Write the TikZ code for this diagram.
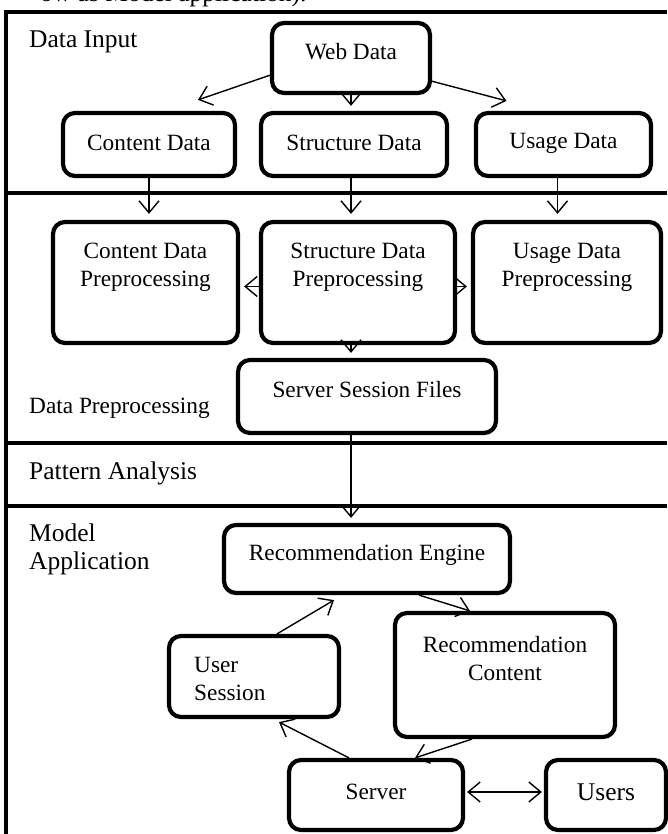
\documentclass[tikz,border=0pt]{standalone}
\usepackage{fontspec}
\setmainfont{Liberation Serif}
\usetikzlibrary{arrows.meta}

\tikzset{
  box/.style={draw, line width=4.2pt, rounded corners=12pt, inner sep=0pt},
  lbl/.style={align=center, inner sep=0pt, font=\fontsize{23.3}{28}\selectfont},
  lane/.style={align=left, anchor=west, inner sep=0pt, font=\fontsize{25.5}{28}\selectfont},
  sep/.style={line width=4.5pt},
  arr/.style={line width=1.4pt, -{Straight Barb[length=12pt,width=20pt]}},
  dbl/.style={line width=1.4pt, {Straight Barb[length=12pt,width=20pt]}-{Straight Barb[length=12pt,width=20pt]}},
}

\begin{document}
\begin{tikzpicture}[x=1pt,y=1pt]
  \useasboundingbox (0,0) rectangle (667,834);
  % cut-off line of text above the figure
  \node[lane, anchor=base west] (toptext) at (40,832) {ow as Model application).};

  % frame and lanes
  \draw[sep] (6,0) -- (6,822) -- (667,822);
  \draw[sep] (6,641) -- (667,641);
  \draw[sep] (6,391) -- (667,391);
  \draw[sep] (6,328) -- (667,328);

  \node[lane] (lanein) at (29,792) {Data Input};
  \node[lbl, anchor=west] (lanepre) at (29,426) {Data Preprocessing};
  \node[lane] (lanepat) at (29,361) {Pattern Analysis};
  \node[lane] (laneapp) at (29,285) {Model\\Application};

  % boxes
  \node[box, minimum width=158pt, minimum height=70pt] (web) at (351,776) {};
  \node[box, minimum width=172pt, minimum height=63pt] (cdata) at (149,689.5) {};
  \node[box, minimum width=186pt, minimum height=63pt] (sdata) at (354,689.5) {};
  \node[box, minimum width=175pt, minimum height=63pt] (udata) at (563.5,689.5) {};
  \node[box, minimum width=185pt, minimum height=121pt] (cpre) at (145.5,551.5) {};
  \node[box, minimum width=194pt, minimum height=121pt] (spre) at (358,551.5) {};
  \node[box, minimum width=188pt, minimum height=121pt] (upre) at (567,551.5) {};
  \node[box, minimum width=258pt, minimum height=73pt] (ssf) at (367,437.5) {};
  \node[box, minimum width=286pt, minimum height=68pt] (reng) at (367,275) {};
  \node[box, minimum width=220pt, minimum height=124pt] (rcont) at (505,159) {};
  \node[box, minimum width=170pt, minimum height=81pt] (usess) at (254,157.5) {};
  \node[box, minimum width=174pt, minimum height=70pt] (server) at (376,39) {};
  \node[box, minimum width=120pt, minimum height=70pt] (users) at (606,39) {};

  % texts of the boxes
  \node[lbl] (webtxt) at (351,782) {Web Data};
  \node[lbl] (cdatatxt) at (149,691) {Content Data};
  \node[lbl] (sdatatxt) at (354,691) {Structure Data};
  \node[lbl] (udatatxt) at (563.5,691) {Usage Data};
  \node[lbl] (cpretxt) at (145.5,566.5) {Content Data\\Preprocessing};
  \node[lbl] (spretxt) at (358,566.5) {Structure Data\\Preprocessing};
  \node[lbl] (upretxt) at (567,566.5) {Usage Data\\Preprocessing};
  \node[lbl] (ssftxt) at (367,444) {Server Session Files};
  \node[lbl] (rengtxt) at (367,279) {Recommendation Engine};
  \node[lbl] (rconttxt) at (505,175.5) {Recommendation\\Content};
  \node[lbl, align=left, anchor=west] (usesstxt) at (194,155.5) {User\\Session};
  \node[lbl] (servertxt) at (376,42) {Server};
  \node[lane, anchor=center] (userstxt) at (606,42) {Users};

  % connectors
  \draw[arr] (web.192) -- ([xshift=49pt,yshift=11pt]cdata.north);
  \draw[arr, shorten >=5pt] (web.south) -- (web.south |- sdata.north);
  \draw[arr] (web.-16) -- ([xshift=-57pt,yshift=10pt]udata.north);

  \draw[arr, shorten >=6pt] (cdata.south) -- (cdata.south |- cpre.north);
  \draw[arr, shorten >=6pt] (sdata.south -| web) -- (spre.north -| web);
  \draw[arr, shorten >=6pt] ([xshift=-6pt]udata.south) -- ([xshift=-6pt]udata.south |- upre.north);

  \draw[arr, shorten >=4pt] ([yshift=-4pt]spre.west) -- ([yshift=-4pt]spre.west -| cpre.east);
  \draw[arr, shorten >=4pt] ([yshift=-4pt]spre.east) -- ([yshift=-4pt]spre.east -| upre.west);
  \draw[arr, shorten >=5pt] (spre.south -| web) -- (ssf.north -| web);
  \draw[arr, shorten >=5pt] (ssf.south -| web) -- (reng.north -| web);

  \draw[arr] ([xshift=52pt]reng.south) -- ([xshift=-35pt]rcont.north);
  \draw[arr] ([xshift=23pt]usess.north) -- ([xshift=-33pt,yshift=-5pt]reng.south);
  \draw[arr] ([xshift=-27pt]server.north) -- ([xshift=25pt,yshift=-3pt]usess.south);
  \draw[arr] ([xshift=-33pt]rcont.south) -- ([xshift=39pt]server.north);
  \draw[dbl, shorten <=2pt, shorten >=2pt] ([yshift=3pt]server.east) -- ([yshift=3pt]users.west);
\end{tikzpicture}
\end{document}
